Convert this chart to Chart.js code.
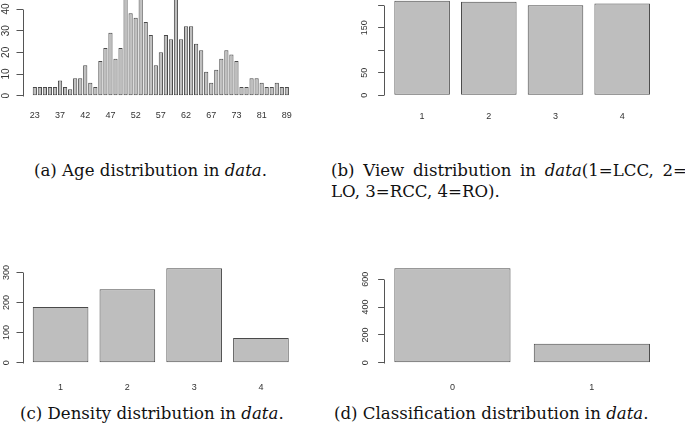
<!DOCTYPE html>
<html>
<head>
<meta charset="utf-8">
<script src="https://cdn.jsdelivr.net/npm/chart.js@4.4.1/dist/chart.umd.min.js"></script>
<style>
  html, body { margin: 0; padding: 0; background: #fff; }
  body { width: 685px; height: 426px; position: relative; overflow: hidden; }
  canvas { position: absolute; }
  .cap { position: absolute; font-family: "DejaVu Serif", serif; font-size: 16.6px; color: #111; white-space: nowrap; line-height: 21px; }
  .just { text-align: justify; text-align-last: justify; }
</style>
</head>
<body>
<canvas id="ageChart"></canvas>
<canvas id="viewChart"></canvas>
<canvas id="densityChart"></canvas>
<canvas id="classChart"></canvas>

<div class="cap" style="left:34px;top:160px">(a) Age distribution in <i>data</i>.</div>
<div class="cap just" style="left:331px;top:160px;width:356px">(b) View distribution in <i>data</i>(1=LCC, 2=</div>
<div class="cap" style="left:331px;top:181px">LO, 3=RCC, 4=RO).</div>
<div class="cap" style="left:20px;top:403px">(c) Density distribution in <i>data</i>.</div>
<div class="cap" style="left:334px;top:403px">(d) Classification distribution in <i>data</i>.</div>

<script>
// (a) age histogram
const ageLabels = ["23","27","30","33","35","37","38","39","40","41","42","43","44","45","46","47","48","49","50","51",
  "52","53","54","55","56","57","58","59","60","61","62","63","64","65","66","67","68","69","70","71",
  "73","74","76","77","79","81","82","84","85","87","89"]
const ageCounts = [4,4,4,4,4,7,4,3,8,8,14,6,4,16,22,29,17,22,47,38,
  36,46,34,28,14,20,28,26,48,26,32,32,24,21,11,6,12,17,21,19,
  16,4,4,8,8,6,4,4,6,4,4]
const ageYTicks = [0, 10, 20, 30, 40]
const ageYShown = [0, 10, 20, 30, 40]

// (b) view
const viewLabels = ["1", "2", "3", "4"]
const viewCounts = [210, 208, 200, 204]
const viewYTicks = [0, 50, 100, 150, 200]
const viewYShown = [0, 50, 150]

// (c) density
const densityLabels = ["1", "2", "3", "4"]
const densityCounts = [185, 244, 314, 82]
const densityYTicks = [0, 50, 100, 150, 200, 250, 300]
const densityYShown = [0, 100, 200, 300]

// (d) classification
const classLabels = ["0", "1"]
const classCounts = [680, 137]
const classYTicks = [0, 100, 200, 300, 400, 500, 600]
const classYShown = [0, 200, 400, 600]

const barFill = "#bebebe"
const barEdge = "#4a4a4a"
const axisColor = "#555"
const textColor = "#333"

// y axis line only from first to last tick, like R
const rAxisLine = {
    id: "rAxisLine",
    afterDraw(chart) {
        const y = chart.scales.y
        const t = y.ticks
        const ctx = chart.ctx
        const x = Math.round(chart.chartArea.left) + 0.5
        ctx.save()
        ctx.strokeStyle = axisColor
        ctx.lineWidth = 1
        ctx.beginPath()
        ctx.moveTo(x, Math.round(y.getPixelForValue(t[0].value)) + 0.5)
        ctx.lineTo(x, Math.round(y.getPixelForValue(t[t.length - 1].value)) + 0.5)
        ctx.stroke()
        ctx.restore()
    }
}

function makePanel(cfg) {
    const canvas = document.getElementById(cfg.id)
    canvas.width = cfg.cw
    canvas.height = cfg.ch
    canvas.style.left = cfg.cx + "px"
    canvas.style.top = cfg.cy + "px"

    const n = cfg.values.length
    const span = 1.2 * n - 0.2
    const centers = cfg.values.map((v, i) => 0.7 + 1.2 * i)
    const ymax = (cfg.zero - cfg.top) / cfg.pxPerUnit

    return new Chart(canvas, {
        type: "bar",
        data: {
            datasets: [{
                data: cfg.values.map((v, i) => ({ x: centers[i], y: v })),
                backgroundColor: barFill,
                borderColor: barEdge,
                borderWidth: 1,
                borderSkipped: false,
                categoryPercentage: 1 / 1.2,
                barPercentage: 1
            }]
        },
        options: {
            responsive: false,
            animation: false,
            devicePixelRatio: 1,
            events: [],
            layout: {
                padding: { left: 0, top: cfg.top - cfg.cy, right: cfg.cx + cfg.cw - cfg.right, bottom: 0 }
            },
            plugins: { legend: { display: false }, tooltip: { enabled: false } },
            scales: {
                x: {
                    type: "linear",
                    offset: false,
                    min: 0.2 - 0.04 * span,
                    max: 1.2 * n + 0.04 * span,
                    grid: { display: false },
                    border: { display: false },
                    afterBuildTicks: s => { s.ticks = centers.map(c => ({ value: c })) },
                    afterFit: s => { s.height = cfg.cy + cfg.ch - cfg.zero },
                    ticks: {
                        autoSkip: false,
                        maxRotation: 0,
                        minRotation: 0,
                        padding: cfg.xPad,
                        color: textColor,
                        font: { family: "Liberation Sans", size: 9 },
                        callback: (v, i) => (i % cfg.every === 0 ? cfg.labels[i] : "")
                    }
                },
                y: {
                    min: 0,
                    max: ymax,
                    grid: { display: true, drawOnChartArea: false, drawTicks: true, tickLength: 6, color: axisColor, lineWidth: 1 },
                    border: { display: false },
                    afterBuildTicks: s => { s.ticks = cfg.yTicks.map(v => ({ value: v })) },
                    afterFit: s => { s.width = cfg.left - cfg.cx },
                    ticks: {
                        minRotation: 90,
                        maxRotation: 90,
                        crossAlign: "center",
                        padding: cfg.yPad,
                        color: textColor,
                        font: { family: "Liberation Sans", size: cfg.yFont },
                        callback: v => (cfg.yShown.includes(v) ? String(v) : "")
                    }
                }
            }
        },
        plugins: [rAxisLine]
    })
}

makePanel({ id: "ageChart", cx: 0, cy: -20, cw: 310, ch: 150,
    left: 22.5, right: 299.2, top: 0, zero: 95.7, pxPerUnit: 2.1675,
    values: ageCounts, labels: ageLabels, every: 5, yTicks: ageYTicks, yShown: ageYShown,
    xPad: 6, yPad: 5, yFont: 10 })

makePanel({ id: "viewChart", cx: 340, cy: -20, cw: 345, ch: 150,
    left: 384.1, right: 660.2, top: 0, zero: 95.3, pxPerUnit: 0.45,
    values: viewCounts, labels: viewLabels, every: 1, yTicks: viewYTicks, yShown: viewYShown,
    xPad: 8, yPad: 6.5, yFont: 9 })

makePanel({ id: "densityChart", cx: 0, cy: 240, cw: 310, ch: 160,
    left: 22.5, right: 299, top: 260, zero: 362.7, pxPerUnit: 0.301,
    values: densityCounts, labels: densityLabels, every: 1, yTicks: densityYTicks, yShown: densityYShown,
    xPad: 11, yPad: 2, yFont: 9 })

makePanel({ id: "classChart", cx: 340, cy: 240, cw: 345, ch: 160,
    left: 384.1, right: 660.2, top: 260, zero: 362.7, pxPerUnit: 0.139,
    values: classCounts, labels: classLabels, every: 1, yTicks: classYTicks, yShown: classYShown,
    xPad: 11, yPad: 5.5, yFont: 9 })
</script>
</body>
</html>
